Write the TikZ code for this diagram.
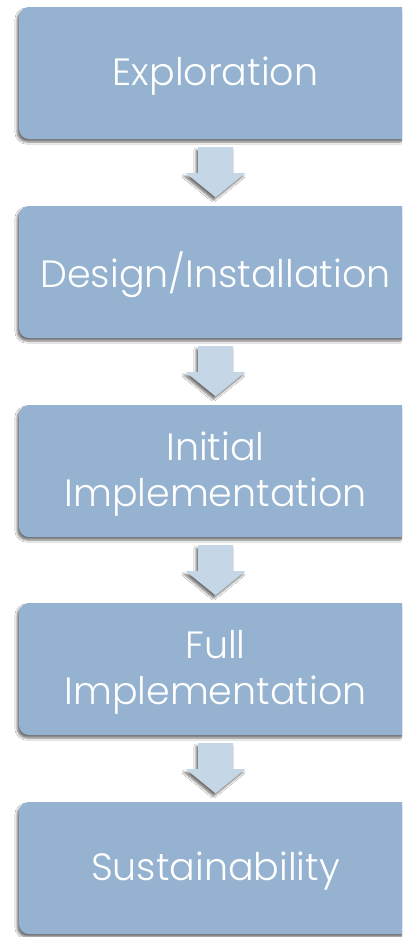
\documentclass[tikz,border=0pt]{standalone}
\usepackage{fontspec}
\setmainfont{Poppins}[UprightFont=* Light]
\usetikzlibrary{shadows.blur}
\definecolor{boxblue}{HTML}{95B3D0}
\definecolor{arrowblue}{HTML}{C5D6E6}
\tikzset{
  stagebox/.style={fill=boxblue, draw=none, rounded corners=10pt,
    minimum width=393pt, minimum height=132pt, inner sep=0pt,
    blur shadow={shadow xshift=-2pt, shadow yshift=-3pt, shadow blur steps=6, shadow opacity=55}},
  stagetext/.style={text=white, font=\fontsize{38}{46}\selectfont, align=center, inner sep=0pt},
  blockarrow/.style={fill=arrowblue, draw=none,
    blur shadow={shadow xshift=-2pt, shadow yshift=-3pt, shadow blur steps=6, shadow opacity=55}}
}
\newcommand{\downarrowat}[1]{%
  \fill[blockarrow] ([xshift=-17.5pt]#1) -- ([xshift=17.5pt]#1) -- ([xshift=17.5pt,yshift=-26pt]#1)
   -- ([xshift=29.5pt,yshift=-26pt]#1) -- ([yshift=-50pt]#1) -- ([xshift=-29.5pt,yshift=-26pt]#1)
   -- ([xshift=-17.5pt,yshift=-26pt]#1) -- cycle;}
\begin{document}
\begin{tikzpicture}[x=1pt,y=-1pt]
\useasboundingbox (0,0) rectangle (402,937);
\clip (0,0) rectangle (402,937);
\fill[white] (0,0) rectangle (402,937);
\node[stagebox] (s1) at (215.5,73) {};
\node[stagebox] (s2) at (215.5,272) {};
\node[stagebox] (s3) at (215.5,471) {};
\node[stagebox] (s4) at (215.5,669) {};
\node[stagebox] (s5) at (215.5,868) {};
\node[stagetext] (t1) at ([yshift=-3pt]s1.center) {Exploration};
\node[stagetext] (t2) at ([yshift=-3pt]s2.center) {Design/Installation};
\node[stagetext] (t3) at ([yshift=-3pt]s3.center) {Initial\\Implementation};
\node[stagetext] (t4) at ([yshift=-3pt]s4.center) {Full\\Implementation};
\node[stagetext] (t5) at ([yshift=-3pt]s5.center) {Sustainability};
\coordinate (a1) at ([yshift=-8pt]s1.south);
\coordinate (a2) at ([yshift=-8pt]s2.south);
\coordinate (a3) at ([yshift=-8pt]s3.south);
\coordinate (a4) at ([yshift=-8pt]s4.south);
\downarrowat{a1}
\downarrowat{a2}
\downarrowat{a3}
\downarrowat{a4}
\end{tikzpicture}
\end{document}
